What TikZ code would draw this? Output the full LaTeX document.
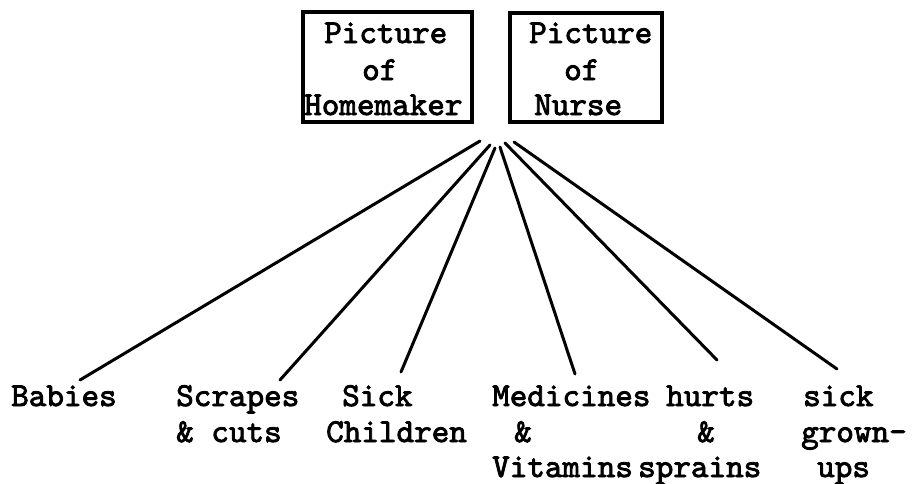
\documentclass[tikz,border=0pt]{standalone}
\usepackage{fontspec}
\newfontfamily\tw{lmmono10-regular.otf}[FakeBold=2.5]
\begin{document}
\begin{tikzpicture}[x=1pt,y=-1pt,
  txt/.style={anchor=base west,inner sep=0pt,font=\tw\fontsize{33.5}{36}\selectfont},
  frame/.style={draw,line width=3.5pt,inner sep=0pt},
  conn/.style={line width=3pt,line cap=round}]
\useasboundingbox (0,0) rectangle (918,483);
% boxes
\node[frame,minimum width=169pt,minimum height=110pt] (hbox) at (387.5,67) {};
\node[frame,minimum width=152pt,minimum height=109pt] (nbox) at (586,67.5) {};
\node[txt] (h1) at (324,43) {Picture};
\node[txt] (h2) at (362,80) {of};
\node[txt] (h3) at (304,115) {Homemaker};
\node[txt] (n1) at (529,43) {Picture};
\node[txt] (n2) at (564,80) {of};
\node[txt] (n3) at (534,115) {Nurse};
% labels
\node[txt] (b1) at (11,406) {Babies};
\node[txt] (s1) at (176,406) {Scrapes};
\node[txt] (s2) at (176,442) {\& cuts};
\node[txt] (c1) at (342,406) {Sick};
\node[txt] (c2) at (326,442) {Children};
\node[txt] (m1) at (492,406) {Medicines};
\node[txt] (m2) at (514,442) {\&};
\node[txt] (m3) at (492,477) {Vitamins};
\node[txt] (u1) at (666,406) {hurts};
\node[txt] (u2) at (697,442) {\&};
\node[txt] (u3) at (638,477) {sprains};
\node[txt] (g1) at (803,406) {sick};
\node[txt] (g2) at (801,442) {grown-};
\node[txt] (g3) at (817,477) {ups};
% connector ends
\coordinate (t1) at (480,141); \coordinate (e1) at (80,380);
\coordinate (t2) at (490,145); \coordinate (e2) at (280,380);
\coordinate (t3) at (495,148); \coordinate (e3) at (401,372);
\coordinate (t4) at (500,147); \coordinate (e4) at (575,374);
\coordinate (t5) at (505,143); \coordinate (e5) at (717,360);
\coordinate (t6) at (514,142); \coordinate (e6) at (837,369);
\foreach \i in {1,...,6} \draw[conn] (t\i) -- (e\i);
\end{tikzpicture}
\end{document}
